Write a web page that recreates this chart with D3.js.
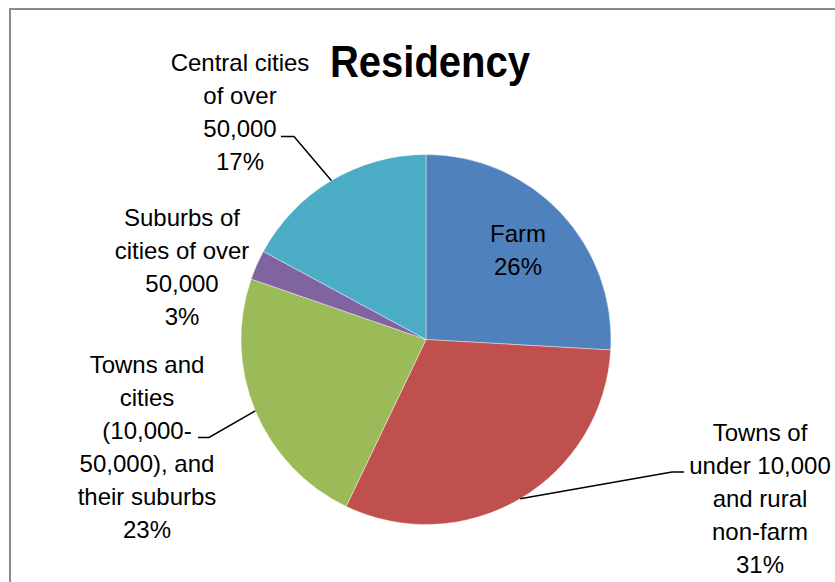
<!DOCTYPE html>
<html>
<head>
<meta charset="utf-8">
<script src="https://cdn.jsdelivr.net/npm/d3@7"></script>
<style>
  html, body { margin: 0; padding: 0; background: #fff; }
  svg { display: block; }
</style>
</head>
<body>
<svg id="chart" width="835" height="582"></svg>
<script>
// ---- data ----
const categories = [
  "Farm",
  "Towns of under 10,000 and rural non-farm",
  "Towns and cities (10,000-50,000), and their suburbs",
  "Suburbs of cities of over 50,000",
  "Central cities of over 50,000"
];
const values = [25.9, 31.2, 23.2, 2.6, 17.1];
const labelLines = [
  ["Farm"],
  ["Towns of", "under 10,000", "and rural", "non-farm"],
  ["Towns and", "cities", "(10,000-", "50,000), and", "their suburbs"],
  ["Suburbs of", "cities of over", "50,000"],
  ["Central cities", "of over", "50,000"]
];
const colors = ["#4F81BD", "#C0504D", "#9BBB59", "#8064A2", "#4BACC6"];
const title = "Residency";

// ---- layout ----
const cx = 426, cy = 339.5, radius = 185;
const lineH = 33;
// label block anchor: centre x, first baseline y
const labelPos = [
  { x: 518, y: 242 },
  { x: 760, y: 440.5 },
  { x: 147, y: 373 },
  { x: 182, y: 226 },
  { x: 240, y: 70.5 }
];
// leader elbows (null = no leader)
const leaders = [
  null,
  { elbow: [672, 472], end: [684, 472] },
  { elbow: [209, 437.5], end: [198, 437.5] },
  null,
  { elbow: [294, 136.5], end: [281, 136.5] }
];

const svg = d3.select("#chart");

// chart border
svg.append("rect")
  .attr("x", 10).attr("y", 9)
  .attr("width", 1000).attr("height", 1000)
  .attr("fill", "none")
  .attr("stroke", "#8a8a8a")
  .attr("stroke-width", 2);

const pie = d3.pie().sort(null).value(d => d);
const arcs = pie(values);
const arc = d3.arc().innerRadius(0).outerRadius(radius);

const g = svg.append("g").attr("transform", `translate(${cx},${cy})`);
g.selectAll("path.slice")
  .data(arcs)
  .join("path")
  .attr("class", "slice")
  .attr("d", arc)
  .attr("fill", (d, i) => colors[i])
  .attr("stroke", "#ffffff")
  .attr("stroke-width", 0.4);

// leader lines
arcs.forEach((a, i) => {
  const L = leaders[i];
  if (!L) return;
  const mid = (a.startAngle + a.endAngle) / 2;
  const px = cx + radius * Math.sin(mid);
  const py = cy - radius * Math.cos(mid);
  svg.append("polyline")
    .attr("points", [[px, py], L.elbow, L.end].map(p => p.join(",")).join(" "))
    .attr("fill", "none")
    .attr("stroke", "#000")
    .attr("stroke-width", 1.5);
});

// labels
arcs.forEach((a, i) => {
  const pct = Math.round(a.data) + "%";
  const lines = labelLines[i].concat([pct]);
  const t = svg.append("text")
    .attr("text-anchor", "middle")
    .attr("font-family", "'Liberation Sans', Arial, sans-serif")
    .attr("font-size", 24)
    .attr("fill", "#000");
  lines.forEach((s, k) => {
    t.append("tspan")
      .attr("x", labelPos[i].x)
      .attr("y", labelPos[i].y + k * lineH)
      .text(s);
  });
});

// title
svg.append("text")
  .attr("x", 430).attr("y", 77)
  .attr("text-anchor", "middle")
  .attr("font-family", "'Liberation Sans', Arial, sans-serif")
  .attr("font-weight", "bold")
  .attr("font-size", 45)
  .attr("textLength", 200)
  .attr("lengthAdjust", "spacingAndGlyphs")
  .attr("fill", "#000")
  .text(title);
</script>
</body>
</html>
